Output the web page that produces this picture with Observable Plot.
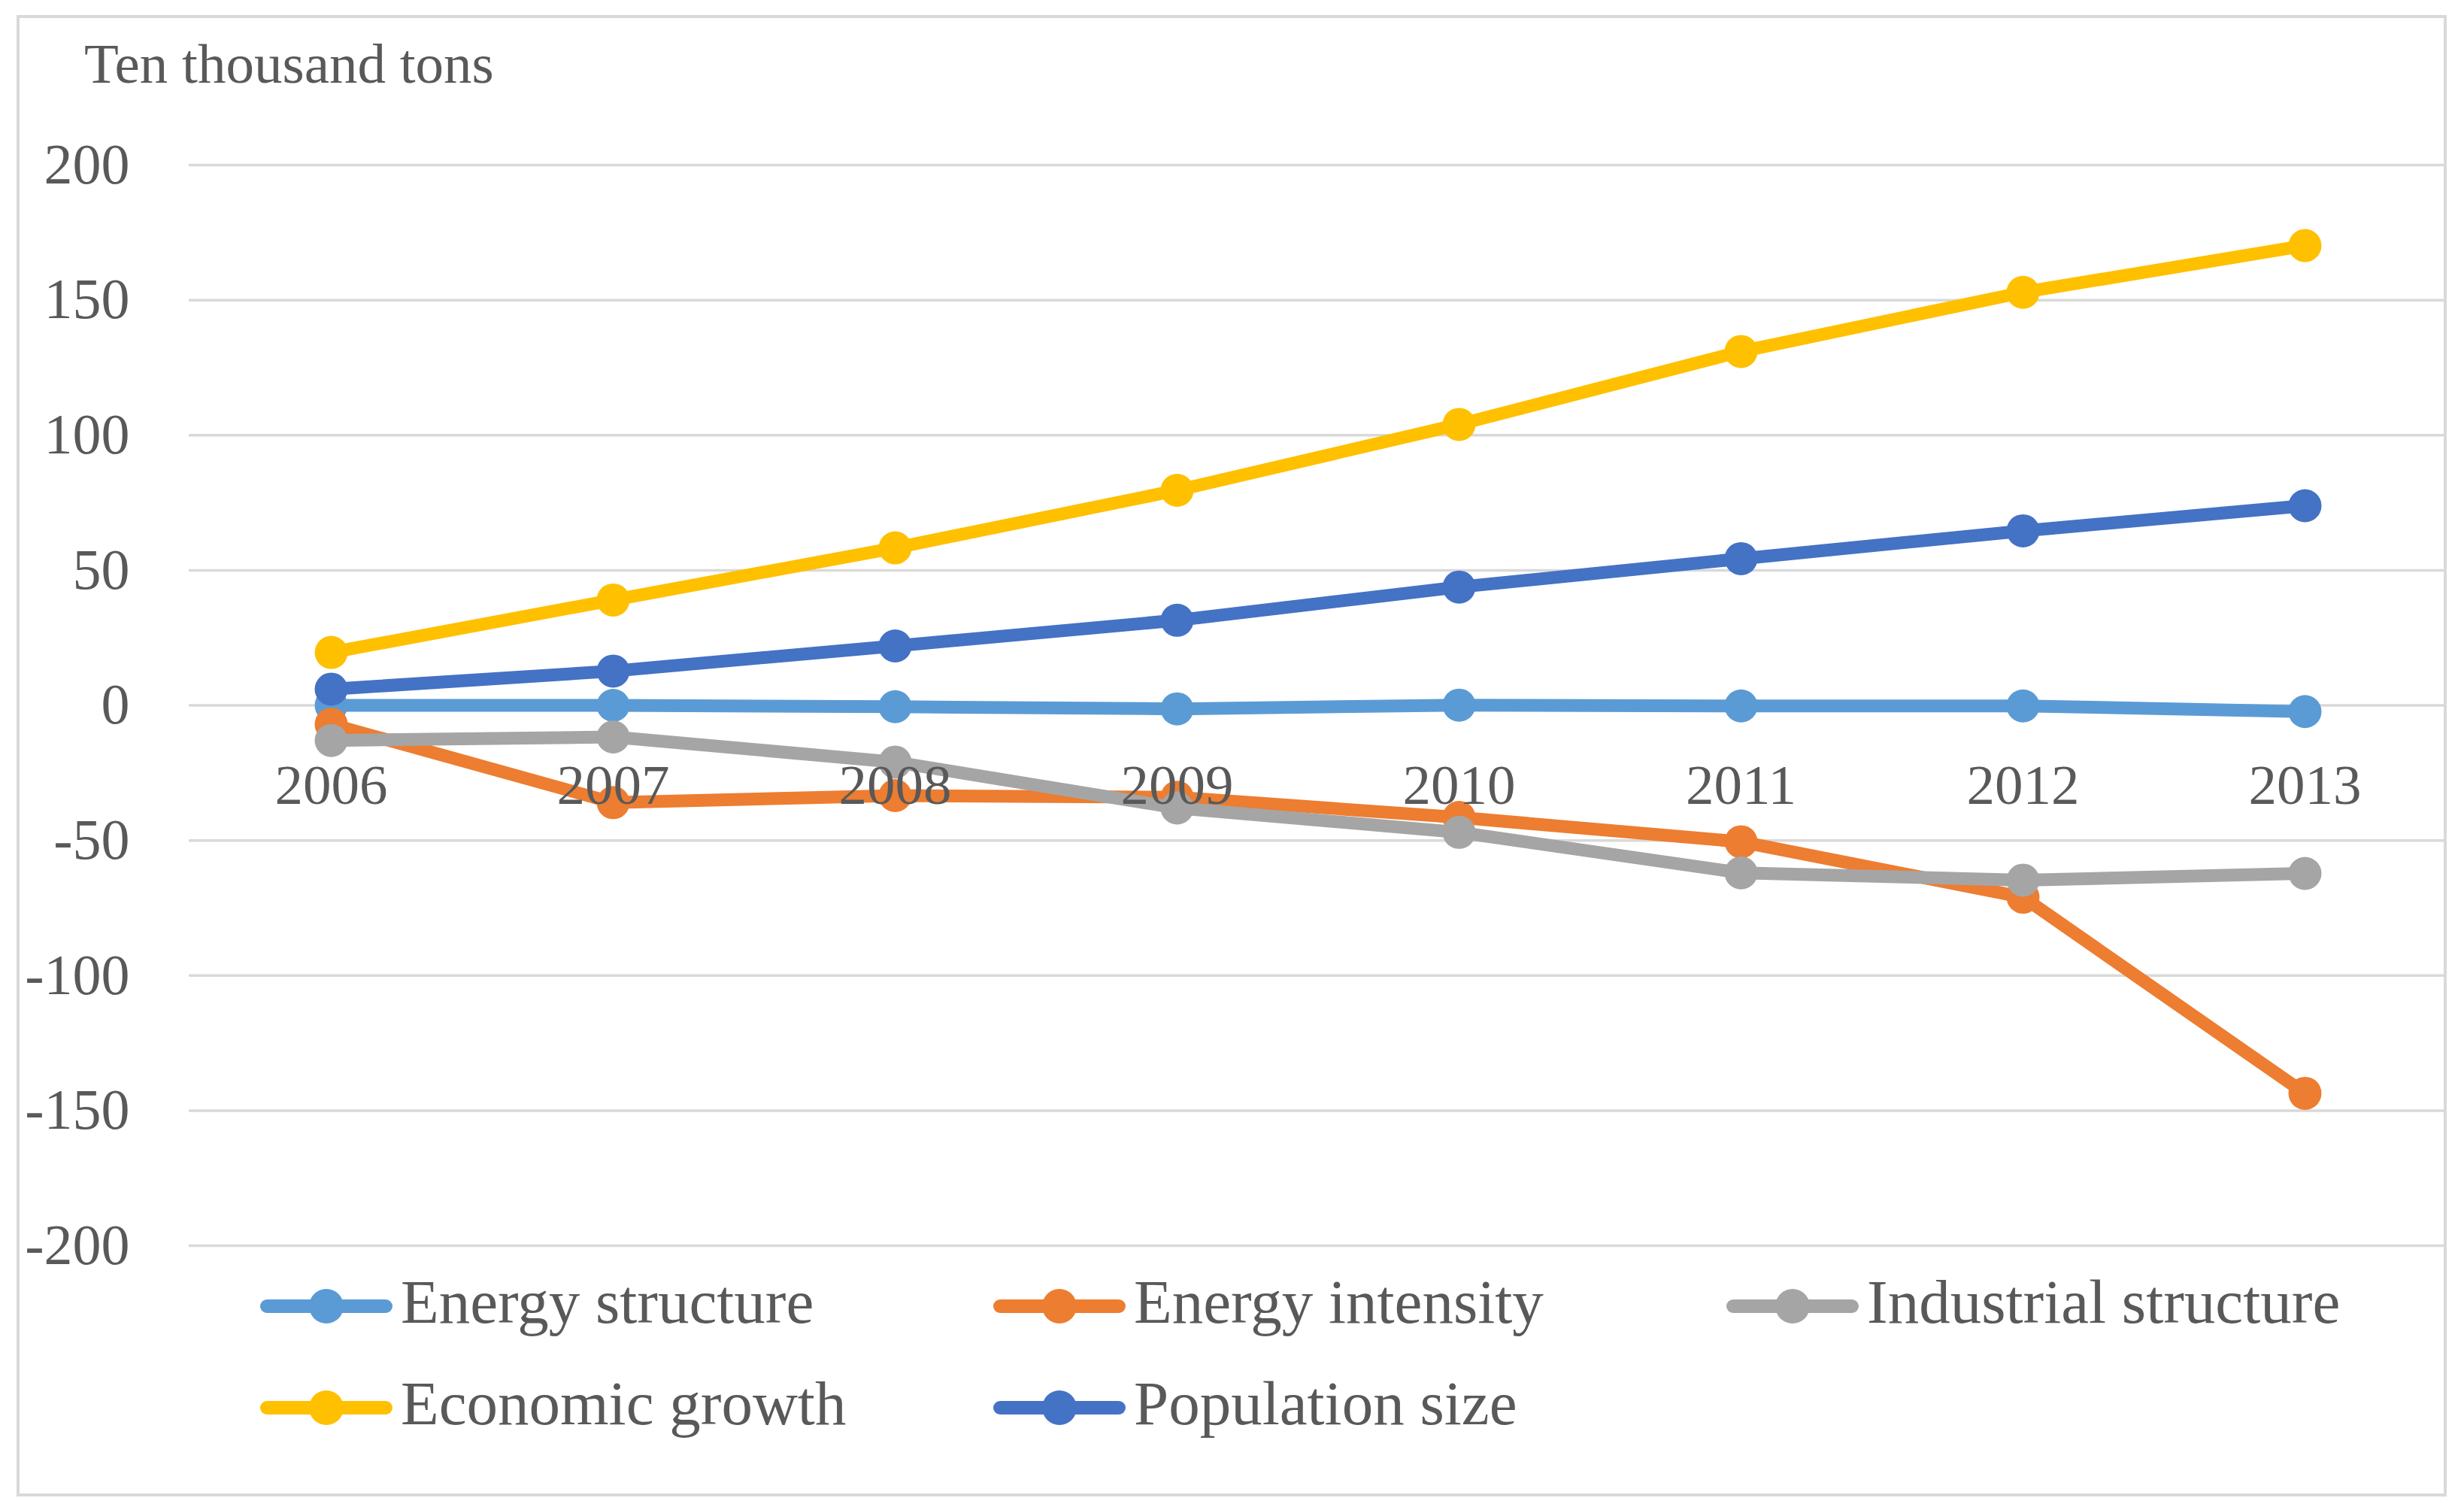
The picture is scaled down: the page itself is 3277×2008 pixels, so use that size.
<!DOCTYPE html>
<html>
<head>
<meta charset="utf-8">
<script src="https://cdn.jsdelivr.net/npm/d3@7"></script>
<script src="https://cdn.jsdelivr.net/npm/@observablehq/plot@0.6"></script>
<style>
  html, body { margin: 0; padding: 0; background: #fff; overflow: hidden; }
  #wrap { position: relative; width: 3277px; height: 2008px; font-family: "Liberation Serif", serif; color: #595959; }
  #chart { position: absolute; left: 0; top: 0; }
  #frame { position: absolute; left: 22px; top: 20px; width: 3232px; height: 1970px; box-sizing: border-box; border: 4px solid #D9D9D9; z-index: 3; pointer-events: none; }
  #title { position: absolute; left: 112px; top: 47px; font-size: 75px; line-height: 1; white-space: nowrap; z-index: 2; }
  #legend { position: absolute; left: 346px; top: 1690px; display: grid; grid-template-columns: repeat(3, 975px); grid-auto-rows: 135px; z-index: 2; }
  .item { display: flex; align-items: center; height: 83px; }
  .item svg { margin-right: 11px; position: relative; top: 5px; }
  .item span { font-size: 83px; line-height: 1; white-space: nowrap; }
</style>
</head>
<body>
<div id="wrap">
  <div id="chart"></div>
  <div id="title"></div>
  <div id="legend"></div>
  <div id="frame"></div>
</div>
<script>
const titleText = "Ten thousand tons";
const years = ["2006", "2007", "2008", "2009", "2010", "2011", "2012", "2013"];
const seriesNames = ["Energy structure", "Energy intensity", "Industrial structure", "Economic growth", "Population size"];
const seriesColors = ["#5B9BD5", "#ED7D31", "#A5A5A5", "#FFC000", "#4472C4"];
const energyStructure = [0, 0, -0.5, -1.3, 0.1, -0.2, -0.2, -2.3];
const energyIntensity = [-7, -36, -33.4, -34, -41.5, -50.5, -71, -143.6];
const industrialStructure = [-13, -11.7, -21, -38, -47, -62, -64.7, -62.2];
const economicGrowth = [19.6, 39, 58.3, 79.6, 104, 131, 152.9, 170.2];
const populationSize = [6, 12.7, 22, 31.5, 43.8, 54.3, 64.6, 73.9];
const yTicks = [-200, -150, -100, -50, 0, 50, 100, 150, 200];

const seriesValues = [energyStructure, energyIntensity, industrialStructure, economicGrowth, populationSize];
const rows = seriesNames.flatMap((s, i) => years.map((yr, j) => ({series: s, year: yr, value: seriesValues[i][j]})));

const marks = [
  Plot.gridY(yTicks, {stroke: "#D9D9D9", strokeOpacity: 1, strokeWidth: 3.5}),
  Plot.axisY(yTicks, {tickSize: 0, tickPadding: 79, fontSize: 76, label: null, tickFormat: d => String(d)})
];
seriesNames.forEach((s, i) => {
  const d = rows.filter(r => r.series === s);
  marks.push(Plot.line(d, {x: "year", y: "value", stroke: seriesColors[i], strokeWidth: 17, strokeLinejoin: "round", strokeLinecap: "round"}));
  marks.push(Plot.dot(d, {x: "year", y: "value", r: 22, fill: seriesColors[i], stroke: null}));
});
marks.push(Plot.text(years, {x: d => d, y: () => 0, text: d => d, fontSize: 75, fill: "#595959", dy: 107, lineAnchor: "middle"}));

const plot = Plot.plot({
  width: 3277,
  height: 1720,
  marginTop: 219,
  marginBottom: 64,
  marginLeft: 251,
  marginRight: 24,
  style: {fontFamily: "Liberation Serif, serif", color: "#595959", background: "transparent"},
  x: {type: "point", domain: years, padding: 0.5, axis: null},
  y: {domain: [-200, 200], axis: null},
  marks
});
document.getElementById("chart").appendChild(plot);

document.getElementById("title").textContent = titleText;

const legend = document.getElementById("legend");
seriesNames.forEach((s, i) => {
  const item = document.createElement("div");
  item.className = "item";
  const ns = "http://www.w3.org/2000/svg";
  const sw = document.createElementNS(ns, "svg");
  sw.setAttribute("width", 176);
  sw.setAttribute("height", 50);
  const ln = document.createElementNS(ns, "line");
  ln.setAttribute("x1", 9); ln.setAttribute("x2", 167);
  ln.setAttribute("y1", 25); ln.setAttribute("y2", 25);
  ln.setAttribute("stroke", seriesColors[i]);
  ln.setAttribute("stroke-width", 18);
  ln.setAttribute("stroke-linecap", "round");
  const c = document.createElementNS(ns, "circle");
  c.setAttribute("cx", 88); c.setAttribute("cy", 25); c.setAttribute("r", 23);
  c.setAttribute("fill", seriesColors[i]);
  sw.appendChild(ln); sw.appendChild(c);
  const t = document.createElement("span");
  t.textContent = s;
  item.appendChild(sw); item.appendChild(t);
  legend.appendChild(item);
});
</script>
</body>
</html>
